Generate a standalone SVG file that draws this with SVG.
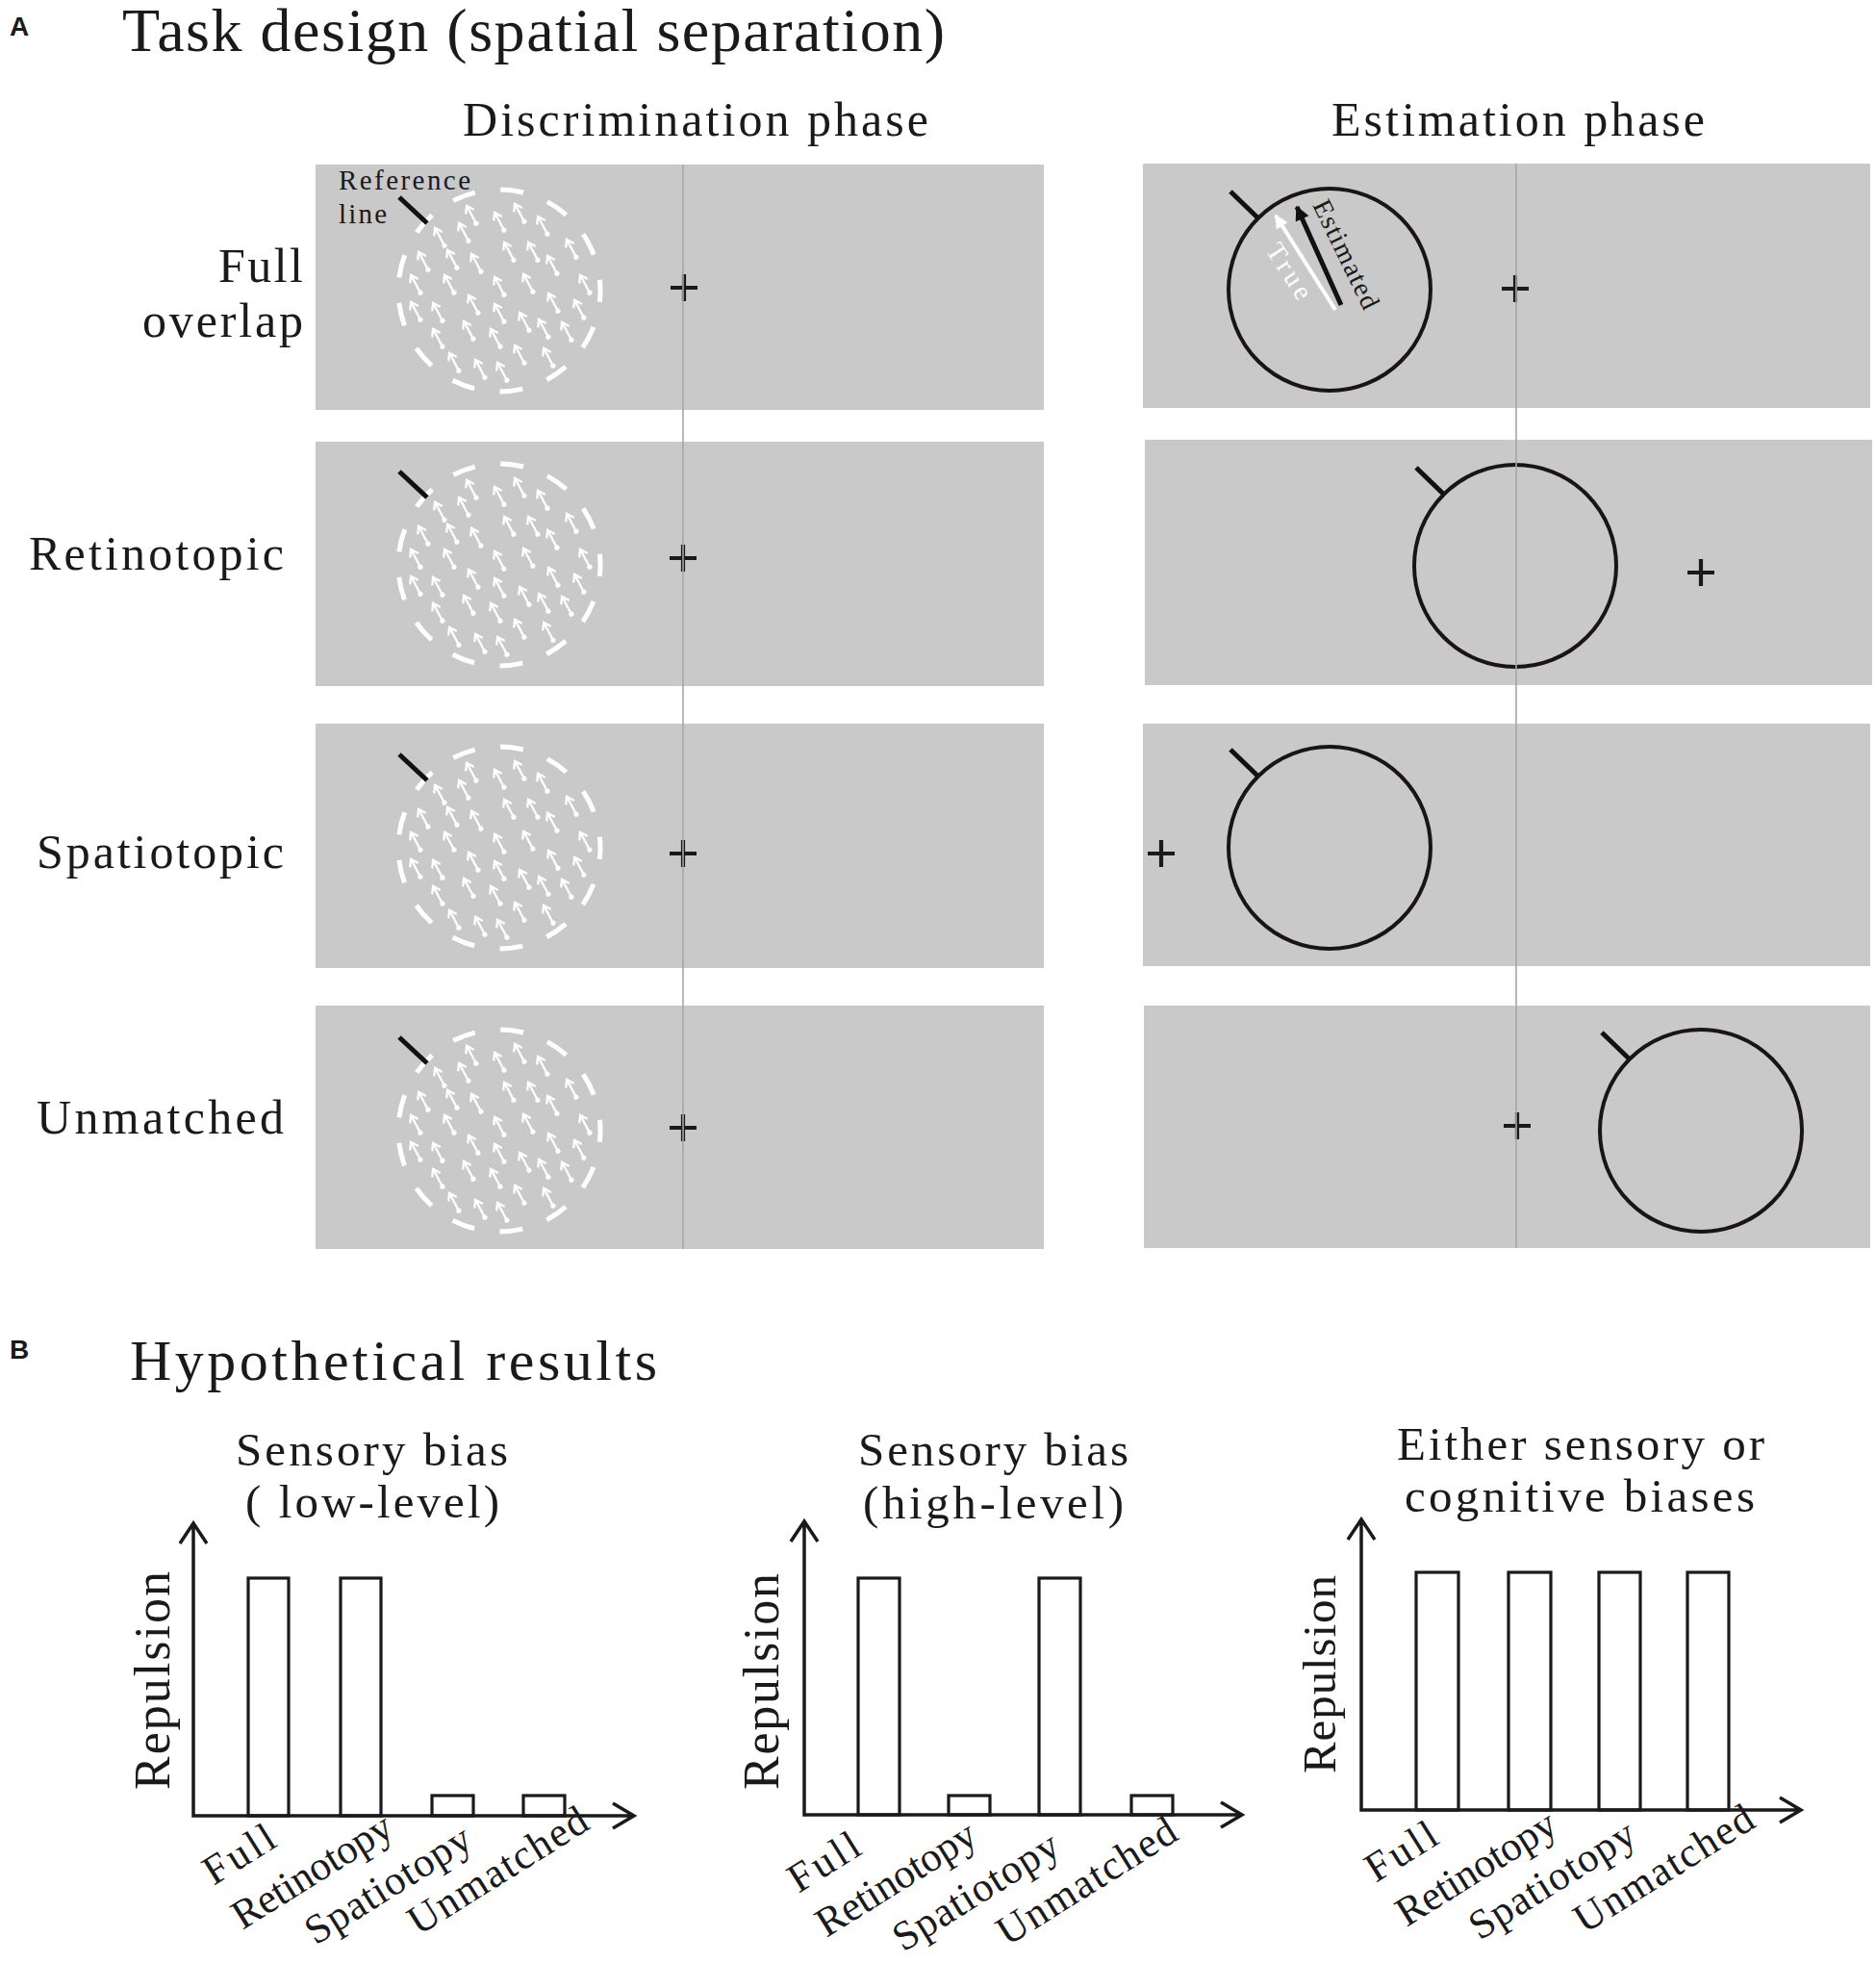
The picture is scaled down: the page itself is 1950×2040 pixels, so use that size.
<svg xmlns="http://www.w3.org/2000/svg" xmlns:xlink="http://www.w3.org/1999/xlink" width="1950" height="2040" viewBox="0 0 1950 2040">
<style>
.bg{fill:#fff}
.panel{fill:#c9c9c9}
.vline{stroke:#a6a6a6;stroke-width:1.6;fill:none}
.t{font-family:"Liberation Serif","Times New Roman",serif;fill:#1a1a1a}
.lab{font-family:"Liberation Sans",Arial,sans-serif;font-weight:bold;font-size:28px;fill:#1a1a1a}
.cross{stroke:#1a1a1a;stroke-width:4.2;fill:none}
.dash{fill:none;stroke:#fff;stroke-width:5;stroke-dasharray:24 26.75;stroke-dashoffset:12}
.ring{fill:none;stroke:#1a1414;stroke-width:4}
.ref{stroke:#111;stroke-width:5;fill:none}
.ax{stroke:#1a1a1a;stroke-width:3.5;fill:none}
.bar{fill:#fff;stroke:#1a1a1a;stroke-width:3.2}
.cat{font-size:43px}
</style>
<defs>
<g id="arw">
<path d="M0,10 V-9 M-4.8,-3.2 L0,-10.5 L4.8,-3.2" stroke="#fff" stroke-width="2.3" fill="none"/>
<circle cx="0" cy="10.5" r="2.6" fill="#fff"/>
</g>
<g id="field">
<use href="#arw" transform="translate(-29,-79) rotate(-28)"/>
<use href="#arw" transform="translate(0,-72) rotate(-28)"/>
<use href="#arw" transform="translate(21,-81) rotate(-28)"/>
<use href="#arw" transform="translate(45,-68) rotate(-28)"/>
<use href="#arw" transform="translate(-62,-56) rotate(-28)"/>
<use href="#arw" transform="translate(-37,-61) rotate(-28)"/>
<use href="#arw" transform="translate(10,-41) rotate(-28)"/>
<use href="#arw" transform="translate(35,-41) rotate(-28)"/>
<use href="#arw" transform="translate(55,-27) rotate(-28)"/>
<use href="#arw" transform="translate(75,-44) rotate(-28)"/>
<use href="#arw" transform="translate(-79,-31) rotate(-28)"/>
<use href="#arw" transform="translate(-49,-33) rotate(-28)"/>
<use href="#arw" transform="translate(-24,-29) rotate(-28)"/>
<use href="#arw" transform="translate(-87,-7) rotate(-28)"/>
<use href="#arw" transform="translate(-52,-7) rotate(-28)"/>
<use href="#arw" transform="translate(0,-5) rotate(-28)"/>
<use href="#arw" transform="translate(30,-8) rotate(-28)"/>
<use href="#arw" transform="translate(89,-7) rotate(-28)"/>
<use href="#arw" transform="translate(-27,14) rotate(-28)"/>
<use href="#arw" transform="translate(0,23) rotate(-28)"/>
<use href="#arw" transform="translate(56,12) rotate(-28)"/>
<use href="#arw" transform="translate(83,19) rotate(-28)"/>
<use href="#arw" transform="translate(-87,21) rotate(-28)"/>
<use href="#arw" transform="translate(-64,22) rotate(-28)"/>
<use href="#arw" transform="translate(-64,49) rotate(-28)"/>
<use href="#arw" transform="translate(-32,41) rotate(-28)"/>
<use href="#arw" transform="translate(-4,49) rotate(-28)"/>
<use href="#arw" transform="translate(26,32) rotate(-28)"/>
<use href="#arw" transform="translate(46,39) rotate(-28)"/>
<use href="#arw" transform="translate(70,42) rotate(-28)"/>
<use href="#arw" transform="translate(-47,74) rotate(-28)"/>
<use href="#arw" transform="translate(-20,81) rotate(-28)"/>
<use href="#arw" transform="translate(3,84) rotate(-28)"/>
<use href="#arw" transform="translate(21,66) rotate(-28)"/>
<use href="#arw" transform="translate(51,69) rotate(-28)"/>
</g>
<path id="crossShape" d="M-14,0 H14 M0,-14 V14"/>
<marker id="headB" viewBox="0 0 10 10" refX="9" refY="5" markerWidth="17" markerHeight="15" markerUnits="userSpaceOnUse" orient="auto"><path d="M0,0 L10,5 L0,10 Z" fill="#111"/></marker>
<marker id="headW" viewBox="0 0 10 10" refX="9" refY="5" markerWidth="16" markerHeight="14" markerUnits="userSpaceOnUse" orient="auto"><path d="M0,0 L10,5 L0,10 Z" fill="#fff"/></marker>
</defs>
<rect class="bg" x="0" y="0" width="1950" height="2040"/>

<g id="panel-A-labels">
<text class="lab" x="10" y="37">A</text>
<text class="t" x="127" y="53" font-size="64" textLength="855" lengthAdjust="spacing">Task design (spatial separation)</text>
<text class="t" x="481" y="141" font-size="50" textLength="484" lengthAdjust="spacing">Discrimination phase</text>
<text class="t" x="1384" y="141" font-size="50" textLength="388" lengthAdjust="spacing">Estimation phase</text>
<text class="t" x="227" y="293" font-size="50" textLength="88" lengthAdjust="spacing">Full</text>
<text class="t" x="148" y="350" font-size="50" textLength="167" lengthAdjust="spacing">overlap</text>
<text class="t" x="30" y="592" font-size="50" textLength="265" lengthAdjust="spacing">Retinotopic</text>
<text class="t" x="38" y="902" font-size="50" textLength="257" lengthAdjust="spacing">Spatiotopic</text>
<text class="t" x="38" y="1178" font-size="50" textLength="257" lengthAdjust="spacing">Unmatched</text>
</g>

<g id="disc-full">
<rect class="panel" x="328" y="171" width="757" height="255"/>
<circle class="dash" cx="519" cy="302" r="105"/>
<use href="#field" transform="translate(519,302)"/>
<path class="ref" d="M415,205 L444,232"/>
<use href="#crossShape" class="cross" transform="translate(711,299)"/>
<text class="t" x="352" y="197" font-size="29" textLength="137" lengthAdjust="spacing">Reference</text>
<text class="t" x="352" y="232" font-size="29" textLength="50" lengthAdjust="spacing">line</text>
</g>
<g id="disc-retino">
<rect class="panel" x="328" y="459" width="757" height="254"/>
<circle class="dash" cx="519" cy="587" r="105"/>
<use href="#field" transform="translate(519,587)"/>
<path class="ref" d="M415,490 L444,517"/>
<use href="#crossShape" class="cross" transform="translate(710,580)"/>
</g>
<g id="disc-spatio">
<rect class="panel" x="328" y="752" width="757" height="254"/>
<circle class="dash" cx="519" cy="881" r="105"/>
<use href="#field" transform="translate(519,881)"/>
<path class="ref" d="M415,784 L444,811"/>
<use href="#crossShape" class="cross" transform="translate(710,887)"/>
</g>
<g id="disc-unmatched">
<rect class="panel" x="328" y="1045" width="757" height="253"/>
<circle class="dash" cx="519" cy="1175" r="105"/>
<use href="#field" transform="translate(519,1175)"/>
<path class="ref" d="M415,1078 L444,1105"/>
<use href="#crossShape" class="cross" transform="translate(710,1172)"/>
</g>

<g id="est-full">
<rect class="panel" x="1188" y="170" width="756" height="254"/>
<circle class="ring" cx="1382" cy="301" r="105"/>
<path class="ref" d="M1279,199 L1307,226"/>
<path d="M1388,322 L1326,224" stroke="#fff" stroke-width="4" fill="none" marker-end="url(#headW)"/>
<path d="M1394,317 L1348,215" stroke="#111" stroke-width="5" fill="none" marker-end="url(#headB)"/>
<text class="t" transform="translate(1364,213) rotate(64)" font-size="28" textLength="123" lengthAdjust="spacing">Estimated</text>
<text class="t" transform="translate(1315,260) rotate(57)" font-size="28" textLength="64" lengthAdjust="spacing" style="fill:#fff">True</text>
<use href="#crossShape" class="cross" transform="translate(1575,300)"/>
</g>
<g id="est-retino">
<rect class="panel" x="1190" y="457" width="756" height="255"/>
<circle class="ring" cx="1575" cy="588" r="105"/>
<path class="ref" d="M1472,486 L1500,513"/>
<use href="#crossShape" class="cross" transform="translate(1768,595)"/>
</g>
<g id="est-spatio">
<rect class="panel" x="1188" y="752" width="756" height="252"/>
<circle class="ring" cx="1382" cy="881" r="105"/>
<path class="ref" d="M1279,779 L1307,806"/>
<use href="#crossShape" class="cross" transform="translate(1207,887)"/>
</g>
<g id="est-unmatched">
<rect class="panel" x="1189" y="1045" width="755" height="252"/>
<circle class="ring" cx="1768" cy="1175" r="105"/>
<path class="ref" d="M1665,1073 L1693,1100"/>
<use href="#crossShape" class="cross" transform="translate(1577,1170)"/>
</g>

<g id="connectors">
<path class="vline" d="M710,171 V1298"/>
<path class="vline" d="M1576,170 V1297"/>
</g>

<g id="panel-B-labels">
<text class="lab" x="10" y="1412">B</text>
<text class="t" x="135" y="1434" font-size="60" textLength="548" lengthAdjust="spacing">Hypothetical results</text>
</g>

<g id="chart-low">
<text class="t" x="245" y="1523" font-size="49" textLength="283" lengthAdjust="spacing">Sensory bias</text>
<text class="t" x="255" y="1577" font-size="49" textLength="264" lengthAdjust="spacing">( low-level)</text>
<text class="t" transform="translate(176,1860) rotate(-90)" font-size="52" textLength="227" lengthAdjust="spacing">Repulsion</text>
<rect class="bar" x="258" y="1640" width="42" height="247"/>
<rect class="bar" x="354" y="1640" width="42" height="247"/>
<rect class="bar" x="449" y="1866" width="43" height="21"/>
<rect class="bar" x="544" y="1866" width="43" height="21"/>
<path class="ax" d="M201,1583 V1887 H659 M187,1604 L201,1583 L215,1604 M637,1874 L659,1887 L637,1900"/>
<text class="t cat" transform="translate(222,1960) rotate(-32)" textLength="80" lengthAdjust="spacing">Full</text>
<text class="t cat" transform="translate(252,2006) rotate(-32)" textLength="188" lengthAdjust="spacing">Retinotopy</text>
<text class="t cat" transform="translate(328,2022) rotate(-32)" textLength="195" lengthAdjust="spacing">Spatiotopy</text>
<text class="t cat" transform="translate(435,2012) rotate(-32)" textLength="212" lengthAdjust="spacing">Unmatched</text>
</g>

<g id="chart-high">
<text class="t" x="892" y="1523" font-size="49" textLength="281" lengthAdjust="spacing">Sensory bias</text>
<text class="t" x="897" y="1578" font-size="49" textLength="271" lengthAdjust="spacing">(high-level)</text>
<text class="t" transform="translate(809,1860) rotate(-90)" font-size="52" textLength="225" lengthAdjust="spacing">Repulsion</text>
<rect class="bar" x="892" y="1640" width="43" height="246"/>
<rect class="bar" x="986" y="1866" width="43" height="20"/>
<rect class="bar" x="1080" y="1640" width="43" height="246"/>
<rect class="bar" x="1176" y="1866" width="43" height="20"/>
<path class="ax" d="M836,1581 V1886 H1291 M822,1602 L836,1581 L850,1602 M1269,1873 L1291,1886 L1269,1899"/>
<text class="t cat" transform="translate(830,1968) rotate(-32)" textLength="80" lengthAdjust="spacing">Full</text>
<text class="t cat" transform="translate(859,2014) rotate(-32)" textLength="188" lengthAdjust="spacing">Retinotopy</text>
<text class="t cat" transform="translate(939,2029) rotate(-32)" textLength="195" lengthAdjust="spacing">Spatiotopy</text>
<text class="t cat" transform="translate(1047,2023) rotate(-32)" textLength="212" lengthAdjust="spacing">Unmatched</text>
</g>

<g id="chart-either">
<text class="t" x="1452" y="1517" font-size="49" textLength="382" lengthAdjust="spacing">Either sensory or</text>
<text class="t" x="1460" y="1571" font-size="49" textLength="364" lengthAdjust="spacing">cognitive biases</text>
<text class="t" transform="translate(1388,1843) rotate(-90)" font-size="49" textLength="206" lengthAdjust="spacing">Repulsion</text>
<rect class="bar" x="1472" y="1634" width="44" height="247"/>
<rect class="bar" x="1568" y="1634" width="44" height="247"/>
<rect class="bar" x="1662" y="1634" width="43" height="247"/>
<rect class="bar" x="1754" y="1634" width="43" height="247"/>
<path class="ax" d="M1415,1579 V1881 H1872 M1401,1600 L1415,1579 L1429,1600 M1850,1868 L1872,1881 L1850,1894"/>
<text class="t cat" transform="translate(1430,1957) rotate(-32)" textLength="80" lengthAdjust="spacing">Full</text>
<text class="t cat" transform="translate(1462,2003) rotate(-32)" textLength="188" lengthAdjust="spacing">Retinotopy</text>
<text class="t cat" transform="translate(1538,2017) rotate(-32)" textLength="195" lengthAdjust="spacing">Spatiotopy</text>
<text class="t cat" transform="translate(1647,2010) rotate(-32)" textLength="212" lengthAdjust="spacing">Unmatched</text>
</g>
</svg>
